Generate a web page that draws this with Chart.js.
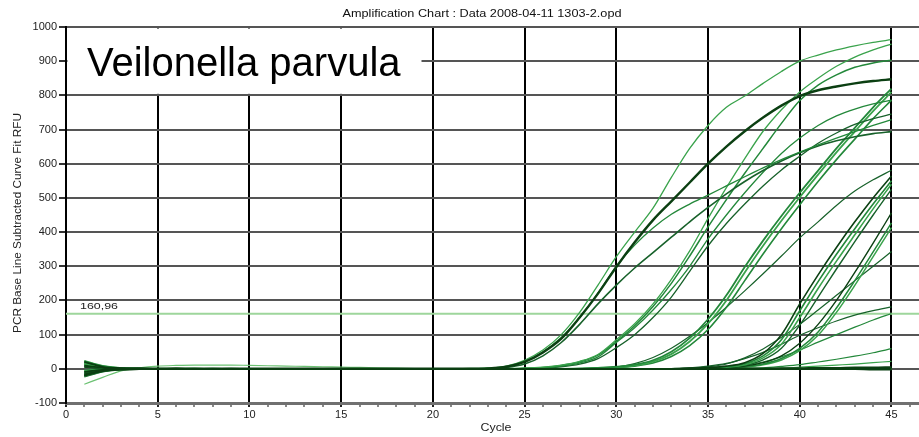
<!DOCTYPE html>
<html>
<head>
<meta charset="utf-8">
<script src="https://cdn.jsdelivr.net/npm/chart.js@4.4.1/dist/chart.umd.min.js"></script>
<style>
  html, body { margin: 0; padding: 0; background: #fff; overflow: hidden; }
  canvas { display: block; }
</style>
</head>
<body>
<canvas id="amp" width="919" height="437"></canvas>
<script>
// ---- texts ----
const chartTitle = 'Amplification Chart : Data 2008-04-11 1303-2.opd';
const organism = 'Veilonella parvula';
const xAxisTitle = 'Cycle';
const yAxisTitle = 'PCR Base Line Subtracted Curve Fit RFU';

// ---- axes ----
const xMin = 0, xMax = 46.5, yMin = -100, yMax = 1000;
const xTickLabels = [0, 5, 10, 15, 20, 25, 30, 35, 40, 45];
const yTickLabels = [-100, 0, 100, 200, 300, 400, 500, 600, 700, 800, 900, 1000];
const threshold = 160.96;

// ---- cycles 1..45 ----
const cycles = [1,2,3,4,5,6,7,8,9,10, 11,12,13,14,15,16,17,18,19,20, 21,22,23,24,25,26,27,28,29,30, 31,32,33,34,35,36,37,38,39,40, 41,42,43,44,45];

// ---- RFU per cycle, one array per well ----
const A1 = [12,4,1,0,1,1,1,0,0,0, 0,0,0,0,0,0,0,0,0,0, 0,1,2,8,25,55,100,165,245,328, 400,470,560,645,712,765,798,835,870,900, 918,933,945,955,963];
const A2 = [-18,-6,-1,0,0,1,0,0,0,0, 0,0,0,0,0,0,0,0,0,0, 0,0,1,6,20,48,88,150,220,298, 370,435,490,545,600,650,695,735,770,798, 815,826,835,842,847];
const A3 = [20,7,2,1,0,0,0,1,0,0, 0,0,0,0,0,0,0,0,0,0, 0,0,2,7,22,50,92,150,222,300, 362,412,452,482,508,535,562,588,612,634, 655,675,694,712,729];
const A4 = [-10,-3,0,0,0,0,-1,0,0,0, 0,0,0,0,0,0,0,0,0,0, 0,0,1,4,14,38,77,130,190,245, 295,340,385,430,472,512,548,580,608,632, 652,667,679,688,694];
const B1 = [16,5,1,0,0,0,1,0,0,0, 0,0,0,0,0,0,0,0,0,0, 0,0,0,1,2,5,11,22,42,85, 132,190,262,345,440,530,615,695,758,810, 850,885,912,933,950];
const B2 = [-22,-8,-2,-1,0,0,0,0,0,0, 0,0,0,0,0,0,0,0,0,0, 0,0,0,0,2,4,10,20,40,80, 126,182,250,330,415,495,572,645,718,785, 830,860,882,895,903];
const B3 = [8,3,1,0,0,0,0,0,0,0, 0,0,0,0,0,0,0,0,0,0, 0,0,0,0,1,3,8,17,35,77, 120,172,232,300,380,450,515,575,630,675, 712,740,760,775,786];
const B4 = [-14,-5,-1,0,0,0,0,0,1,0, 0,0,0,0,0,0,0,0,0,0, 0,0,0,0,1,2,6,14,30,62, 100,150,210,285,360,425,482,535,582,622, 660,690,715,732,745];
const C1 = [22,8,2,1,0,0,0,0,0,0, 0,0,0,0,0,0,0,0,0,0, 0,0,0,0,0,0,0,1,3,6, 12,25,50,90,145,215,298,375,447,515, 580,645,705,765,820];
const C2 = [-6,-2,0,0,0,0,0,0,0,0, 0,0,0,0,0,0,0,0,0,0, 0,0,0,0,0,0,0,0,2,5, 10,21,43,80,132,200,282,360,433,502, 568,633,694,754,810];
const C3 = [14,5,1,0,0,0,0,0,0,0, 0,0,0,0,0,0,0,0,0,0, 0,0,0,0,0,0,0,0,2,4, 8,17,36,68,115,180,258,336,410,480, 548,612,672,732,786];
const C4 = [-20,-7,-2,-1,0,0,0,0,0,0, 0,0,0,0,0,0,0,0,0,0, 0,0,0,0,0,0,0,0,2,5, 15,33,60,95,135,180,228,278,330,383, 430,478,520,553,581];
const D1 = [10,3,1,0,0,0,0,0,0,0, 0,0,0,0,0,0,0,0,0,0, 0,0,0,0,0,0,0,0,0,0, 0,0,0,2,4,8,18,45,100,190, 275,355,430,500,564];
const D2 = [-16,-5,-1,0,0,0,0,0,0,0, 0,0,0,0,0,0,0,0,0,0, 0,0,0,0,0,0,0,0,0,0, 0,0,0,0,3,6,15,38,85,170, 255,335,410,482,550];
const D3 = [18,6,2,0,0,0,0,0,0,0, 0,0,0,0,0,0,0,0,0,0, 0,0,0,0,0,0,0,0,0,0, 0,0,0,0,2,5,12,32,72,150, 235,315,392,468,540];
const D4 = [-12,-4,-1,0,0,0,0,0,0,0, 0,0,0,0,0,0,0,0,0,0, 0,0,0,0,0,0,0,0,0,0, 0,0,0,0,2,4,10,26,60,128, 210,292,372,450,525];
const E1 = [6,2,0,0,0,0,0,0,0,0, 0,0,0,0,0,0,0,0,0,0, 0,0,0,0,0,0,0,0,0,0, 0,0,0,0,0,3,8,18,38,75, 130,200,282,368,456];
const E2 = [-8,-3,-1,0,0,0,0,0,0,0, 0,0,0,0,0,0,0,0,0,0, 0,0,0,0,0,0,0,0,0,0, 0,0,0,0,0,2,6,14,30,60, 108,178,258,342,427];
const E3 = [24,9,3,1,0,0,0,0,0,0, 0,0,0,0,0,0,0,0,0,0, 0,0,0,0,0,0,0,0,0,0, 0,0,0,0,0,2,5,12,26,53, 98,165,244,328,413];
const E4 = [-24,-9,-3,-1,0,0,0,0,0,0, 0,0,0,0,0,0,0,0,0,0, 0,0,0,0,0,0,0,0,0,0, 0,0,0,2,6,14,32,58,92,130, 172,215,258,300,343];
const F1 = [4,1,0,0,0,0,0,0,0,0, 0,0,0,0,0,0,0,0,0,0, 0,0,0,0,0,0,0,0,0,0, 0,0,1,3,8,16,30,48,72,98, 120,140,157,170,181];
const F2 = [-4,-1,0,0,0,0,0,0,0,0, 0,0,0,0,0,0,0,0,0,0, 0,0,0,0,0,0,0,0,0,0, 0,0,0,0,2,5,10,20,35,55, 78,100,122,143,162];
const F3 = [15,5,1,0,0,0,0,0,0,0, 0,0,0,0,0,0,0,0,0,0, 0,0,0,0,0,0,0,0,0,0, 0,0,0,0,0,0,2,3,7,12, 20,28,37,47,59];
const F4 = [-15,-5,-1,0,0,0,0,0,0,0, 0,0,0,0,0,0,0,0,0,0, 0,0,0,0,0,0,0,0,0,0, 0,0,0,0,0,0,0,1,2,5, 8,11,14,18,22];
const N1 = [9,3,1,0,0,0,0,0,0,0, 0,0,0,0,0,0,0,0,0,0, 0,0,0,0,0,0,0,0,0,0, 0,0,0,0,0,0,1,1,2,2, 3,3,4,4,5];
const N2 = [-9,-3,-1,0,0,0,0,0,0,0, 0,0,0,0,0,0,0,0,0,0, 0,0,0,0,0,0,0,0,0,0, 0,0,0,0,0,0,0,0,0,0, 0,-1,-1,-2,-2];
const N3 = [20,6,2,1,0,0,0,0,0,0, 0,0,0,0,0,0,0,0,0,0, 0,0,0,0,0,0,0,0,0,0, 0,0,0,0,0,0,0,0,0,0, 0,0,0,1,1];
const N4 = [-20,-6,-2,-1,0,0,0,0,0,0, 0,0,0,0,0,0,0,0,0,0, 0,0,0,0,0,0,0,0,0,0, 0,0,0,0,0,0,0,0,0,0, 0,0,0,0,0];
const L1 = [-45,-25,-6,3,8,10,11,11,11,10, 9,8,7,6,5,4,3,2,1,0, 0,0,0,0,0,0,0,0,0,0, 0,0,0,0,0,0,0,0,0,0, 0,0,0,0,0];

// ---- line styles ----
const greens = { dark: '#0b3f12', deep: '#17612a', mid: '#23883a', light: '#3aa34c', pale: '#6cc273' };
const wells = [
  ['L1', L1, 'pale', 1.2],
  ['F4', F4, 'light', 1.2], ['F3', F3, 'mid', 1.2], ['F2', F2, 'mid', 1.2], ['F1', F1, 'deep', 1.2],
  ['E4', E4, 'deep', 1.2], ['E3', E3, 'light', 1.5], ['E2', E2, 'mid', 1.5], ['E1', E1, 'dark', 1.4],
  ['D4', D4, 'deep', 1.4], ['D3', D3, 'light', 1.6], ['D2', D2, 'mid', 1.6], ['D1', D1, 'dark', 1.6],
  ['C4', C4, 'deep', 1.2], ['C3', C3, 'mid', 1.6], ['C2', C2, 'light', 1.8], ['C1', C1, 'mid', 1.8],
  ['B4', B4, 'deep', 1.3], ['B3', B3, 'mid', 1.3], ['B2', B2, 'mid', 1.5], ['B1', B1, 'light', 1.3],
  ['A4', A4, 'deep', 1.6], ['A3', A3, 'mid', 1.3], ['A1', A1, 'light', 1.3], ['A2', A2, 'dark', 2.4],
  ['N4', N4, 'dark', 1.8], ['N3', N3, 'dark', 1.8], ['N2', N2, 'dark', 1.8], ['N1', N1, 'dark', 1.8]
];

const FONT = '"Liberation Sans", Arial, Helvetica, sans-serif';
Chart.defaults.font.family = FONT;

const datasets = [{
  label: 'Threshold',
  data: [{ x: xMin, y: threshold }, { x: xMax, y: threshold }],
  borderColor: '#9ed69c',
  borderWidth: 2,
  pointRadius: 0,
  order: 1000
}];
wells.forEach(([name, values, tone, width], i) => {
  datasets.push({
    label: name,
    data: cycles.map((c, k) => ({ x: c, y: values[k] })),
    borderColor: greens[tone],
    borderWidth: width,
    pointRadius: 0,
    cubicInterpolationMode: 'monotone',
    order: wells.length - i
  });
});

// scale a string horizontally so it spans a given width
function drawSpanned(ctx, text, cx, cy, font, span, color, rotated) {
  ctx.save();
  ctx.font = font;
  ctx.fillStyle = color;
  const w = ctx.measureText(text).width;
  ctx.translate(cx, cy);
  if (rotated) ctx.rotate(-Math.PI / 2);
  ctx.scale(span / w, 1);
  ctx.textAlign = 'center';
  ctx.textBaseline = 'middle';
  ctx.fillText(text, 0, 0);
  ctx.restore();
}

const decorations = {
  id: 'decorations',
  beforeDatasetsDraw(chart) {
    const { ctx, chartArea, scales: { y } } = chart;
    // white panel holding the organism name, between the 1000 and 800 grid lines
    const top = y.getPixelForValue(1000) + 1.5;
    const bottom = y.getPixelForValue(800) - 1.5;
    ctx.save();
    ctx.fillStyle = '#ffffff';
    ctx.fillRect(chartArea.left + 1.5, top, 420 - chartArea.left, bottom - top);
    ctx.fillStyle = '#000000';
    ctx.font = '40px ' + FONT;
    ctx.textBaseline = 'alphabetic';
    ctx.textAlign = 'left';
    ctx.fillText(organism, 87, 76);
    ctx.restore();
  },
  afterDraw(chart) {
    const { ctx, scales: { y } } = chart;
    drawSpanned(ctx, chartTitle, 482, 14, '10px ' + FONT, 279, '#111', false);
    drawSpanned(ctx, yAxisTitle, 18, 223, '10px ' + FONT, 220, '#222', true);
    drawSpanned(ctx, xAxisTitle, 496, 428, '10px ' + FONT, 31, '#222', false);
    const label = threshold.toFixed(2).replace('.', ',');
    drawSpanned(ctx, label, 99, y.getPixelForValue(threshold) - 7, '8.5px ' + FONT, 38, '#222', false);
  }
};

new Chart(document.getElementById('amp'), {
  type: 'line',
  data: { datasets },
  plugins: [decorations],
  options: {
    responsive: false,
    animation: false,
    devicePixelRatio: 1,
    layout: { padding: { top: 27, left: 0, right: 0, bottom: 0 } },
    plugins: { legend: { display: false }, tooltip: { enabled: false }, title: { display: false } },
    scales: {
      x: {
        type: 'linear',
        min: xMin,
        max: xMax,
        afterFit(s) { s.height = 34; },
        ticks: {
          stepSize: 1,
          includeBounds: false,
          autoSkip: false,
          maxRotation: 0,
          padding: 1,
          color: '#222',
          font: { size: 11 },
          callback: (v) => (xTickLabels.includes(v) ? String(v) : '')
        },
        grid: {
          color: (c) => (c.tick && xTickLabels.includes(c.tick.value) ? '#000' : 'rgba(0,0,0,0)'),
          tickColor: (c) => (c.tick && xTickLabels.includes(c.tick.value) ? '#222' : '#888'),
          lineWidth: 2,
          tickLength: 4
        },
        border: { display: true, color: '#707070', width: 3 }
      },
      y: {
        min: yMin,
        max: yMax,
        afterFit(s) { s.width = 66; },
        ticks: {
          stepSize: 100,
          padding: 2,
          color: '#222',
          font: { size: 11 },
          callback: (v) => (yTickLabels.includes(v) ? String(v) : '')
        },
        grid: { color: '#555', lineWidth: 2, tickLength: 7, tickColor: '#333' },
        border: { display: true, color: '#000', width: 2 }
      }
    }
  }
});
</script>
</body>
</html>
